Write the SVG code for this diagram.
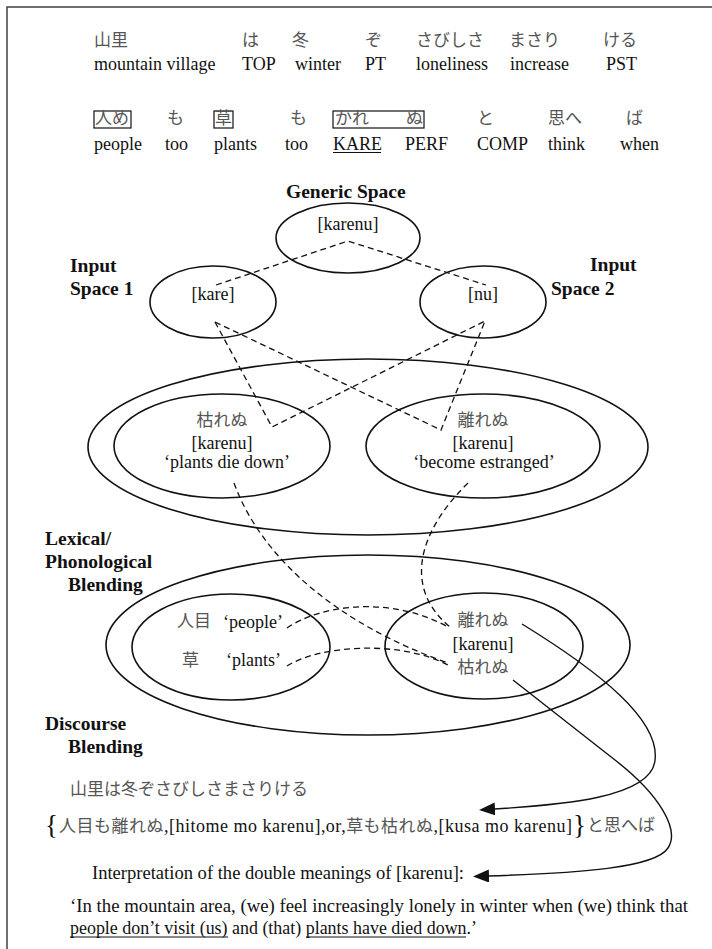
<svg xmlns="http://www.w3.org/2000/svg" width="712" height="949" viewBox="0 0 712 949">
<style>
.t{font-family:"Liberation Serif","Noto Sans CJK JP",serif;font-size:18px;fill:#111}
.bt{font-family:"Liberation Serif","Noto Sans CJK JP",serif;font-size:18px;fill:#111}
.j{font-family:"Noto Sans CJK JP",sans-serif;font-size:17px;fill:#555}
.b{font-family:"Liberation Serif",serif;font-size:19.5px;font-weight:bold;fill:#111}
.c{text-anchor:middle}
.e{fill:none;stroke:#111;stroke-width:1.6}
.d{fill:none;stroke:#111;stroke-width:1.3;stroke-dasharray:6 4}
.s{fill:none;stroke:#111;stroke-width:1.4}
.u{stroke:#111;stroke-width:1.2}
.box{fill:none;stroke:#111;stroke-width:1.2}
</style>
<defs>
<marker id="ah" markerUnits="userSpaceOnUse" markerWidth="16" markerHeight="13" viewBox="0 0 16 13" refX="1" refY="6.5" orient="auto"><path d="M0,0 L16,6.5 L0,13 z" fill="#111"/></marker>
</defs>
<rect x="7" y="7" width="720" height="960" fill="none" stroke="#333" stroke-width="1.4"/>

<g id="gloss">
<text class="j" y="46"><tspan x="94">山里</tspan><tspan x="242">は</tspan><tspan x="292">冬</tspan><tspan x="365">ぞ</tspan><tspan x="416">さびしさ</tspan><tspan x="509">まさり</tspan><tspan x="603">ける</tspan></text>
<text class="t" y="70"><tspan x="94">mountain village</tspan><tspan x="242">TOP</tspan><tspan x="295">winter</tspan><tspan x="365">PT</tspan><tspan x="416">loneliness</tspan><tspan x="510">increase</tspan><tspan x="606">PST</tspan></text>
<rect class="box" x="94" y="111" width="37" height="17"/>
<rect class="box" x="214" y="111" width="19" height="17"/>
<rect class="box" x="333" y="111" width="91" height="17"/>
<text class="j" y="124"><tspan x="95">人め</tspan><tspan x="167">も</tspan><tspan x="215">草</tspan><tspan x="290">も</tspan><tspan x="335">かれ</tspan><tspan x="406">ぬ</tspan><tspan x="477">と</tspan><tspan x="548">思へ</tspan><tspan x="626">ば</tspan></text>
<text class="t" y="150"><tspan x="94">people</tspan><tspan x="165">too</tspan><tspan x="214">plants</tspan><tspan x="285">too</tspan><tspan x="333">KARE</tspan><tspan x="405">PERF</tspan><tspan x="477">COMP</tspan><tspan x="548">think</tspan><tspan x="620">when</tspan></text>
<line class="u" x1="333" y1="152.5" x2="381" y2="152.5"/>
</g>

<g id="labels">
<text class="b" x="286" y="198">Generic Space</text>
<text class="b" x="70" y="272">Input</text>
<text class="b" x="70" y="295">Space 1</text>
<text class="b" x="590" y="271">Input</text>
<text class="b" x="551" y="295">Space 2</text>
<text class="b" x="45" y="545">Lexical/</text>
<text class="b" x="45" y="568">Phonological</text>
<text class="b" x="68" y="591">Blending</text>
<text class="b" x="45" y="730">Discourse</text>
<text class="b" x="68" y="753">Blending</text>
</g>

<g id="generic-space">
<ellipse class="e" cx="348" cy="238" rx="72" ry="35"/>
<text class="t c" x="348" y="230">[karenu]</text>
</g>
<g id="input-space-1">
<ellipse class="e" cx="213" cy="302" rx="63" ry="36"/>
<text class="t c" x="213" y="300">[kare]</text>
</g>
<g id="input-space-2">
<ellipse class="e" cx="483" cy="302" rx="63" ry="36"/>
<text class="t c" x="483" y="300">[nu]</text>
</g>

<g id="lexical-blend">
<ellipse class="e" cx="368" cy="447" rx="280" ry="88"/>
</g>
<g id="kareru">
<ellipse class="e" cx="222" cy="446" rx="108" ry="52"/>
<text class="j c" x="222" y="426">枯れぬ</text>
<text class="t c" x="222" y="449">[karenu]</text>
<text class="t c" x="227" y="468">‘plants die down’</text>
</g>
<g id="hanareru">
<ellipse class="e" cx="483" cy="446" rx="117" ry="52"/>
<text class="j c" x="483" y="426">離れぬ</text>
<text class="t c" x="483" y="449">[karenu]</text>
<text class="t c" x="484" y="468">‘become estranged’</text>
</g>

<g id="discourse-blend">
<ellipse class="e" cx="368" cy="645" rx="262" ry="90"/>
</g>
<g id="hitome-kusa">
<ellipse class="e" cx="231" cy="647" rx="99" ry="53"/>
<text class="j" x="177" y="627">人目</text>
<text class="t" x="223" y="628">‘people’</text>
<text class="j" x="182" y="666">草</text>
<text class="t" x="226" y="666">‘plants’</text>
</g>
<g id="karenu-blend">
<ellipse class="e" cx="484" cy="646" rx="99" ry="53"/>
<text class="j c" x="483" y="626">離れぬ</text>
<text class="t c" x="483" y="650">[karenu]</text>
<text class="j c" x="483" y="673">枯れぬ</text>
</g>

<g id="connectors">
<path class="d" d="M216,285 L348,241 L486,285"/>
<path class="d" d="M215,322 L272,427 L485,321"/>
<path class="d" d="M215,322 L441,430 L485,321"/>
<path class="d" d="M234,483 C262,560 340,625 448,663"/>
<path class="d" d="M468,483 C415,535 405,590 450,627"/>
<path class="d" d="M287,628 C320,605 390,595 448,627"/>
<path class="d" d="M287,666 C320,645 400,640 448,665"/>
<path class="s" d="M522,624 C600,672 660,720 655,760 C652,798 560,805 494,809" marker-end="url(#ah)"/>
<path class="s" d="M513,680 L615,760 C660,795 680,830 668,848 C655,868 580,873 488,876" marker-end="url(#ah)"/>
</g>

<g id="poem">
<text class="j" x="70" y="795">山里は冬ぞさびしさまさりける</text>
<text class="t" x="45" y="834" style="font-size:27px">{</text>
<text class="bt" x="59" y="832" textLength="513" lengthAdjust="spacing"><tspan class="j" style="font-size:17px">人目も離れぬ</tspan>,[hitome mo karenu],or,<tspan class="j" style="font-size:17px">草も枯れぬ</tspan>,[kusa mo karenu]</text>
<text class="t" x="573" y="834" style="font-size:27px">}</text>
<text class="j" x="587" y="831">と思へば</text>
<text class="bt" x="92" y="879" textLength="372" lengthAdjust="spacingAndGlyphs">Interpretation of the double meanings of [karenu]:</text>
<text class="bt" x="70" y="912" textLength="618" lengthAdjust="spacingAndGlyphs">‘In the mountain area, (we) feel increasingly lonely in winter when (we) think that</text>
<text class="bt" x="70" y="934" textLength="407" lengthAdjust="spacingAndGlyphs">people don’t visit (us) and (that) plants have died down.’</text>
<line class="u" x1="70" y1="937" x2="228" y2="937"/>
<line class="u" x1="306" y1="937" x2="466" y2="937"/>
</g>
</svg>
